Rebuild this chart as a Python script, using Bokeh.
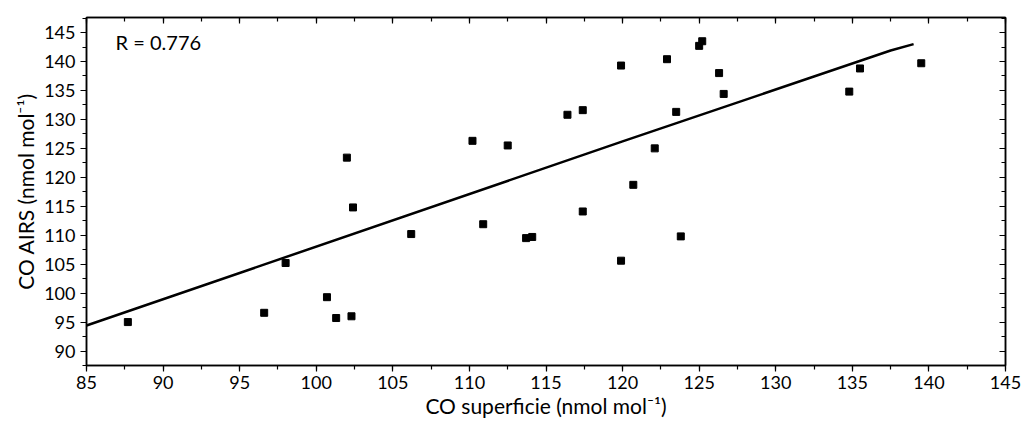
from bokeh.plotting import figure
from bokeh.models import LinearAxis, SingleIntervalTicker, Range1d, Label, CustomJSTickFormatter
from bokeh.embed import file_html
from bokeh.resources import INLINE

# data
co_surface = [87.7, 96.6, 98.0, 100.7, 101.3, 102.0, 102.4, 102.3, 106.2, 110.2,
              110.9, 112.5, 113.7, 114.1, 116.4, 117.4, 117.4, 119.9, 119.9, 120.7,
              122.1, 122.9, 123.5, 123.8, 125.0, 125.2, 126.3, 126.6, 134.8, 135.5, 139.5]
co_airs = [95.0, 96.6, 105.2, 99.3, 95.7, 123.4, 114.8, 96.0, 110.2, 126.3,
           111.9, 125.5, 109.5, 109.7, 130.8, 131.6, 114.1, 139.3, 105.6, 118.7,
           125.0, 140.4, 131.3, 109.8, 142.7, 143.5, 138.0, 134.4, 134.8, 138.8, 139.7]
fit_x = [85.0, 120.0, 137.5, 139.0]
fit_y = [94.4, 126.2, 141.9, 143.0]
r_text = "R = 0.776"
x_title = "CO superficie (nmol mol\u207b\u00b9)"
y_title = "CO AIRS (nmol mol\u207b\u00b9)"

FONT = "Lato"

p = figure(frame_width=919, frame_height=348,
           x_range=Range1d(85, 145), y_range=Range1d(87.5, 147.6),
           output_backend="svg", toolbar_location=None,
           x_axis_location=None, y_axis_location=None,
           min_border_left=86, min_border_right=17, min_border_top=17, min_border_bottom=58)
p.background_fill_color = "white"
p.border_fill_color = "white"
p.outline_line_color = "black"
p.outline_line_width = 1.5
p.xgrid.visible = False
p.ygrid.visible = False

def style(ax, labels=True, inward=False):
    ax.axis_line_color = "black"
    ax.axis_line_width = 1.5
    ax.major_tick_line_color = "black"
    ax.minor_tick_line_color = "black"
    ax.major_tick_line_width = 1.2
    ax.minor_tick_line_width = 1.2
    if inward:
        ax.major_tick_in = 6
        ax.major_tick_out = 0
        ax.minor_tick_in = 4
        ax.minor_tick_out = 0
    else:
        ax.major_tick_in = 0
        ax.major_tick_out = 6
        ax.minor_tick_in = 0
        ax.minor_tick_out = 4
    ax.major_label_text_font = FONT
    ax.major_label_text_font_size = "18px"
    ax.major_label_text_color = "black"
    ax.axis_label_text_font = FONT
    ax.axis_label_text_font_size = "21px"
    ax.axis_label_text_font_style = "normal"
    ax.axis_label_text_color = "black"
    if not labels:
        ax.formatter = CustomJSTickFormatter(code="return ''")
        ax.major_label_standoff = 0

xb = LinearAxis(ticker=SingleIntervalTicker(interval=5, num_minor_ticks=2), axis_label=x_title)
style(xb)
xb.major_label_standoff = 4
xb.axis_label_standoff = 1
p.add_layout(xb, "below")

yl = LinearAxis(ticker=SingleIntervalTicker(interval=5, num_minor_ticks=2), axis_label=y_title)
style(yl)
yl.major_label_standoff = 5
yl.axis_label_standoff = 3
p.add_layout(yl, "left")

xt = LinearAxis(ticker=SingleIntervalTicker(interval=5, num_minor_ticks=2))
style(xt, labels=False, inward=True)
p.add_layout(xt, "above")

yr = LinearAxis(ticker=SingleIntervalTicker(interval=5, num_minor_ticks=2))
style(yr, labels=False, inward=True)
p.add_layout(yr, "right")

p.line(fit_x, fit_y, line_color="black", line_width=2.5)
p.scatter(co_surface, co_airs, marker="square", size=7, fill_color="black", line_color="black")

p.add_layout(Label(x=86.9, y=143.4, text=r_text, text_font=FONT, text_font_size="20px",
                   text_baseline="middle", text_color="black"))

open("out.html", "w").write(file_html(p, INLINE))
